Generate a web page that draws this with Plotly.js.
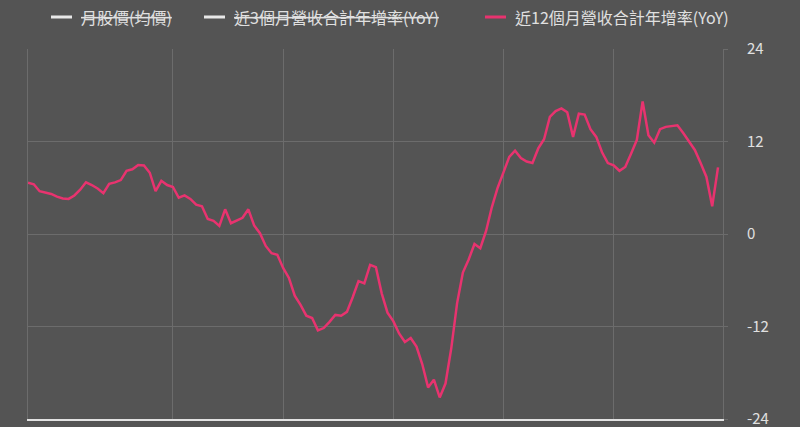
<!DOCTYPE html>
<html>
<head>
<meta charset="utf-8">
<script src="https://cdn.plot.ly/plotly-3.0.1.min.js"></script>
<style>
  html, body { margin: 0; padding: 0; background: #545454; }
  #chart { width: 800px; height: 427px; }
</style>
</head>
<body>
<div id="chart"></div>
<script>
// Series names (legend)
const seriesNames = ['月股價(均價)', '近3個月營收合計年增率(YoY)', '近12個月營收合計年增率(YoY)'];
const seriesColors = ['#e8e8e8', '#e8e8e8', '#e8336f'];
const seriesHidden = [true, true, false];

// 近12個月營收合計年增率(YoY), monthly (%)
const yoy12m = [
  6.65, 6.45, 5.55, 5.4, 5.2, 4.85, 4.6, 4.55, 5.0, 5.75,
  6.7, 6.35, 5.9, 5.3, 6.5, 6.7, 7.0, 8.2, 8.4, 8.95,
  8.9, 7.95, 5.55, 6.9, 6.35, 6.1, 4.7, 5.0, 4.55, 3.8,
  3.6, 1.95, 1.7, 1.05, 3.2, 1.4, 1.7, 2.1, 3.2, 1.1,
  0.1, -1.55, -2.5, -2.7, -4.4, -5.7, -8.0, -9.2, -10.6, -10.9,
  -12.5, -12.2, -11.4, -10.5, -10.6, -10.1, -8.2, -6.1, -6.4, -4.0,
  -4.3, -7.7, -10.2, -11.3, -12.9, -14.0, -13.5, -14.6, -16.9, -19.9,
  -18.9, -21.2, -19.4, -14.8, -9.0, -5.0, -3.3, -1.3, -1.85, 0.4,
  3.5, 6.0, 8.0, 10.0, 10.8, 9.85, 9.4, 9.2, 11.1, 12.3,
  15.2, 15.95, 16.3, 15.8, 12.6, 15.6, 15.5, 13.6, 12.6, 10.6,
  9.2, 8.9, 8.2, 8.7, 10.4, 12.2, 17.2, 12.8, 11.85, 13.6,
  13.9, 14.0, 14.1, 13.1, 12.0, 10.9, 9.2, 7.4, 3.6, 8.65
];
const monthIndex = yoy12m.map((_, i) => i);

// Axis ticks
const yTicks = [-24, -12, 0, 12, 24];
const xGridTicks = [25, 44, 63, 82, 101];

const gridColor = '#6c6c6c';
const textColor = '#e0e0e0';
const fontFamily = '"Noto Sans CJK TC", "Noto Sans", sans-serif';

// Legend layout (pixel positions of the legend row, converted to paper coords)
const W = 800, H = 427;
const M = { l: 28, r: 77, t: 49, b: 8 };
const plotW = W - M.l - M.r, plotH = H - M.t - M.b;
const px2x = px => (px - M.l) / plotW;
const py2y = py => (H - M.b - py) / plotH;
const legendRowY = 17;
const legendSymbolStart = [51, 204, 485];
const legendSymbolLen = 21;
const legendTextStart = [79, 232, 513];

const shapes = [];
const annotations = [];
seriesNames.forEach((name, k) => {
  shapes.push({
    type: 'line', xref: 'paper', yref: 'paper',
    x0: px2x(legendSymbolStart[k]), x1: px2x(legendSymbolStart[k] + legendSymbolLen),
    y0: py2y(legendRowY), y1: py2y(legendRowY),
    line: { color: seriesColors[k], width: 3 }
  });
  annotations.push({
    xref: 'paper', yref: 'paper',
    x: px2x(legendTextStart[k]), y: py2y(legendRowY),
    xanchor: 'left', yanchor: 'middle',
    text: seriesHidden[k] ? '<s>' + name + '</s>' : name,
    showarrow: false,
    font: { family: fontFamily, size: 16, color: textColor }
  });
});

const traces = [
  {
    x: monthIndex, y: yoy12m, type: 'scatter', mode: 'lines',
    name: seriesNames[2],
    line: { color: seriesColors[2], width: 2.5 },
    showlegend: false
  }
];

const layout = {
  width: W, height: H,
  paper_bgcolor: '#545454',
  plot_bgcolor: '#545454',
  margin: { l: M.l, r: M.r, t: M.t, b: M.b, pad: 0 },
  font: { family: fontFamily, color: textColor, size: 14 },
  showlegend: false,
  shapes: shapes,
  annotations: annotations,
  xaxis: {
    range: [0, 119.86],
    tickvals: xGridTicks,
    showticklabels: false,
    ticks: '',
    showgrid: true, gridcolor: gridColor, gridwidth: 1,
    zeroline: false,
    showline: true, linecolor: '#e2e2e2', linewidth: 2,
    fixedrange: true
  },
  yaxis: {
    side: 'right',
    range: [-24, 24],
    tickvals: yTicks,
    ticktext: yTicks.map(String),
    ticks: 'outside', ticklen: 4, tickcolor: gridColor, tickwidth: 1,
    ticklabelstandoff: 16,
    ticklabeloverflow: 'allow',
    tickfont: { family: fontFamily, size: 15, color: textColor },
    showgrid: true, gridcolor: gridColor, gridwidth: 1,
    zeroline: false,
    showline: true, mirror: true, linecolor: gridColor, linewidth: 1,
    fixedrange: true
  }
};

Plotly.newPlot('chart', traces, layout, { displayModeBar: false, staticPlot: true });
</script>
</body>
</html>
